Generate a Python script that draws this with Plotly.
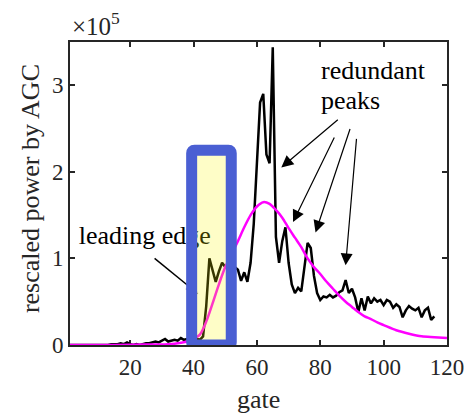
import plotly.graph_objects as go

# ---- data (power in units of 1e5) ----
power = [0, 0, 0, 0, 0, 0, 0, 0, 0, 0, 0, 0, 0,
         0.01, 0.01, 0.01, 0.02, 0.01, 0.03, 0.01, 0.0, 0.01, 0.0, 0.01, 0.02, 0.02, 0.03, 0.04, 0.03,
         0.05, 0.07, 0.04, 0.05, 0.06, 0.05, 0.08, 0.06, 0.07, 0.06, 0.08, 0.07, 0.06, 0.1,
         0.45, 1.0, 0.85, 0.73, 0.85, 0.95, 0.9, 0.92, 0.95, 0.9, 0.87, 0.74, 0.84, 0.73, 0.95, 1.4,
         2.1, 2.8, 2.9, 2.2, 2.1, 3.44, 1.25, 0.95, 1.2, 1.36, 0.95, 0.7, 0.6, 0.66, 0.62, 0.9,
         1.18, 1.12, 0.8, 0.6, 0.52, 0.56, 0.55, 0.58, 0.55, 0.57, 0.61, 0.63, 0.75, 0.6, 0.65,
         0.55, 0.38, 0.54, 0.4, 0.56, 0.48, 0.54, 0.5, 0.52, 0.46, 0.52, 0.5, 0.43, 0.47, 0.44,
         0.32, 0.4, 0.45, 0.42, 0.4, 0.43, 0.32, 0.4, 0.43, 0.29, 0.33]
gate = list(range(1, len(power) + 1))

fit_gate = [1, 10, 20, 30, 32, 34, 36, 38, 40, 42, 44, 46, 48, 50, 52, 54, 56, 58, 60, 62, 64,
            66, 68, 70, 72, 74, 76, 78, 80, 82, 84, 86, 88, 90, 92, 94, 96, 98, 100, 104, 108,
            112, 116, 120]
fit_power = [0, 0, 0.003, 0.007, 0.01, 0.015, 0.025, 0.04, 0.07, 0.12, 0.27, 0.48, 0.7, 0.9,
             1.05, 1.2, 1.36, 1.5, 1.6, 1.65, 1.63, 1.56, 1.47, 1.35, 1.24, 1.13, 1.0, 0.9,
             0.82, 0.73, 0.65, 0.57, 0.5, 0.44, 0.38, 0.33, 0.3, 0.26, 0.23, 0.17, 0.13, 0.1,
             0.09, 0.08]

x_ticks = [20, 40, 60, 80, 100, 120]
y_ticks = [0, 1, 2, 3]

FONT = "Liberation Serif, Times New Roman, DejaVu Serif, serif"
TXT = "#262626"

fig = go.Figure()
fig.add_trace(go.Scatter(x=gate, y=power, mode="lines",
                         line=dict(color="black", width=2.5), hoverinfo="skip"))
fig.add_trace(go.Scatter(x=fit_gate, y=fit_power, mode="lines",
                         line=dict(color="#FF00FF", width=2.5, shape="spline", smoothing=0.8),
                         hoverinfo="skip"))

# leading edge label + arrow (as traces so the highlight box sits above them)
fig.add_trace(go.Scatter(x=[24.6], y=[1.24], mode="text", text=["leading edge"],
                         textfont=dict(family=FONT, size=26, color="black"),
                         textposition="middle center", hoverinfo="skip"))
fig.add_trace(go.Scatter(x=[27.7, 41.8], y=[1.0, 0.58], mode="lines+markers",
                         line=dict(color="black", width=1.5),
                         marker=dict(symbol=["circle", "arrow"], size=[0, 15],
                                     angleref="previous", color="black"),
                         hoverinfo="skip"))

# highlighted box
x0, x1, y0, y1 = 39.4, 51.9, 0.0, 2.25
rx, ry = 0.9, 0.035
path = (f"M {x0+rx},{y1} L {x1-rx},{y1} Q {x1},{y1} {x1},{y1-ry} "
        f"L {x1},{y0+ry} Q {x1},{y0} {x1-rx},{y0} "
        f"L {x0+rx},{y0} Q {x0},{y0} {x0},{y0+ry} "
        f"L {x0},{y1-ry} Q {x0},{y1} {x0+rx},{y1} Z")
fig.add_shape(type="path", path=path, xref="x", yref="y", layer="above",
              fillcolor="rgba(250,245,0,0.22)",
              line=dict(color="#4A5FD3", width=11))

# redundant peaks arrows
tips = [(67.7, 2.05, 58, -49), (71.4, 1.42, 42, -86), (78.5, 1.30, 35, -105), (88.0, 0.92, 11, -128)]
for tx, ty, ax, ay in tips:
    fig.add_annotation(x=tx, y=ty, ax=ax, ay=ay, text="", showarrow=True,
                       arrowhead=2, arrowsize=2.0, arrowwidth=1.2, arrowcolor="black")

fig.add_annotation(x=79.6, y=3.17, text="redundant", showarrow=False, xanchor="left",
                   yanchor="middle", font=dict(family=FONT, size=26, color="black"))
fig.add_annotation(x=79.6, y=2.82, text="peaks", showarrow=False, xanchor="left",
                   yanchor="middle", font=dict(family=FONT, size=26, color="black"))

# exponent label
fig.add_annotation(xref="paper", yref="paper", x=0.0, y=1.06, xanchor="left", yanchor="middle",
                   text="×10<sup>5</sup>", showarrow=False,
                   font=dict(family=FONT, size=25, color=TXT))
# axis titles
fig.add_annotation(xref="paper", yref="paper", x=-0.103, y=0.515, textangle=-90,
                   xanchor="center", yanchor="middle",
                   text="rescaled power by AGC", showarrow=False,
                   font=dict(family=FONT, size=26, color=TXT))
fig.add_annotation(xref="paper", yref="paper", x=0.5, y=-0.18, xanchor="center",
                   yanchor="middle", text="gate", showarrow=False,
                   font=dict(family=FONT, size=26, color=TXT))

axis_common = dict(showline=True, mirror="ticks", linecolor=TXT, linewidth=2,
                   ticks="inside", ticklen=5, tickwidth=1.5, tickcolor=TXT,
                   showgrid=False, zeroline=False, layer="below traces",
                   tickfont=dict(family=FONT, size=23, color=TXT))
fig.update_xaxes(range=[1, 120], tickvals=x_ticks, **axis_common)
fig.update_yaxes(range=[0, 3.5], tickvals=y_ticks, **axis_common)

# the page body keeps its default 8px margin: figure is 8px smaller, placed at (8, 8)
fig.update_layout(width=468, height=411, margin=dict(l=62, r=19, t=34, b=74),
                  plot_bgcolor="white", paper_bgcolor="white", showlegend=False,
                  font=dict(family=FONT, color=TXT))
fig.write_html("out.html")
